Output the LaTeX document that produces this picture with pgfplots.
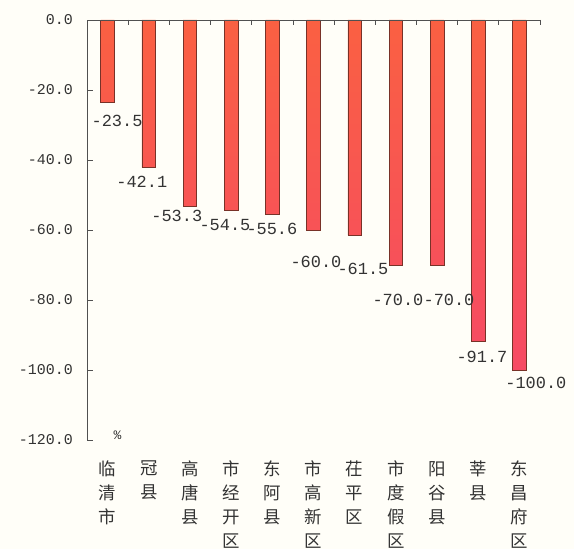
\documentclass[border=0pt]{standalone}
\usepackage{pgfplots}
\pgfplotsset{compat=1.18}
\usepackage{pgfplotstable}
\usepackage{fontspec}
\setmainfont{Liberation Mono}
\newfontfamily\numfont{Liberation Mono}
\newfontfamily\cjk{Noto Sans CJK SC}

\definecolor{bartop}{RGB}{250,96,66}
\definecolor{barbot}{RGB}{246,74,100}
\definecolor{baredge}{RGB}{120,50,40}
\definecolor{paper}{RGB}{255,254,248}
\definecolor{axisgray}{RGB}{80,80,80}

% x: category index, y: value, lx/ly: where the value label sits
\pgfplotstableread{
x  y      lx     ly     lab
0  -23.5  0.23   -28.9  -23.5
1  -42.1  0.83   -46.3  -42.1
2  -53.3  1.68   -56.0  -53.3
3  -54.5  2.85   -58.6  -54.5
4  -55.6  3.99   -59.7  -55.6
5  -60.0  5.06   -69.1  -60.0
6  -61.5  6.20   -71.1  -61.5
7  -70.0  7.05   -80.0  -70.0
8  -70.0  8.29   -80.0  -70.0
9  -91.7  9.09   -96.3  -91.7
10 -100.0 10.40  -103.7 -100.0
}\drops

\pgfplotsset{frame/.style={
    at={(87bp,109bp)}, anchor=south west,
    scale only axis, width=453bp, height=420bp,
    xmin=-0.5, xmax=10.5, ymin=-120, ymax=0,
    axis line style={draw=axisgray, line width=0.8pt, -},
    tick style={draw=axisgray, line width=0.8pt},
    tick align=inside,
}}

\begin{document}
\begin{tikzpicture}[x=1bp,y=1bp]
\path[use as bounding box, fill=paper] (0,0) rectangle (574,549);
% bars, y axis and category names
\begin{axis}[
    frame,
    axis x line*=bottom, axis y line*=left,
    x axis line style={draw=none},
    xtick={0,...,10},
    xticklabels={{临\\清\\市},{冠\\县},{高\\唐\\县},{市\\经\\开\\区},{东\\阿\\县},{市\\高\\新\\区},{茌\\平\\区},{市\\度\\假\\区},{阳\\谷\\县},{莘\\县},{东\\昌\\府\\区}},
    x tick style={draw=none},
    ytick={-120,-100,...,0},
    major tick length=6bp,
    xticklabel style={font=\cjk\fontsize{17.5}{24}\selectfont, align=center,
        anchor=north, inner sep=0pt, yshift=-15bp, text=black!80},
    yticklabel style={font=\numfont\fontsize{15}{15}\selectfont, anchor=east,
        inner sep=0pt, xshift=-14bp, text=black!80},
    /pgf/number format/assume math mode=true,
    yticklabel={\pgfmathprintnumber[fixed, fixed zerofill, precision=1]{\tick}},
    ybar, bar width=0.33,
    clip=false,
]
\addplot[top color=bartop, bottom color=barbot, draw=baredge, line width=0.6pt, bar shift=0pt]
    table[x=x, y=y] {\drops};
\addplot[draw=none, mark=none, nodes near coords, point meta=explicit symbolic,
    every node near coord/.style={anchor=center, inner sep=0pt,
        font=\numfont\fontsize{17}{17}\selectfont, text=black!80}]
    table[x=lx, y=ly, meta=lab] {\drops};
\node[anchor=south, inner sep=0pt, font=\numfont\fontsize{13}{13}\selectfont, text=black!80]
    at (axis cs:0.24,-119.8) {\%};
\end{axis}
% top line with the separators between categories
\begin{axis}[
    frame,
    axis x line*=top, axis y line=none,
    xtick={0.5,1.5,...,10.5}, xticklabels={},
    major tick length=5bp,
    ytick=\empty,
]
\end{axis}
\end{tikzpicture}
\end{document}
